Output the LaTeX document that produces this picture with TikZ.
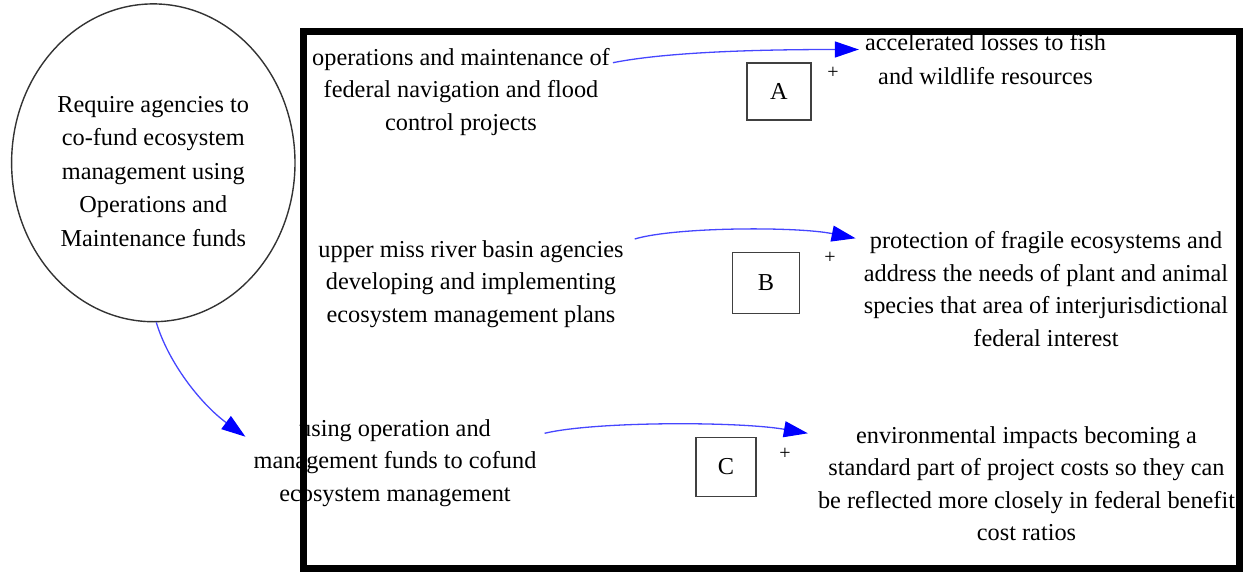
\documentclass[tikz,border=0pt]{standalone}
\usepackage{fontspec}
\setmainfont{Liberation Serif}
\usetikzlibrary{arrows.meta,shapes.geometric}
\definecolor{linkblue}{RGB}{70,70,255}
\definecolor{tipblue}{RGB}{0,0,255}

\begin{document}
\begin{tikzpicture}[x=1pt,y=-1pt,
  lbl/.style={align=center, inner sep=0pt, anchor=base,
              font=\fontsize{24.3}{32.5}\selectfont},
  tagbox/.style={draw=black!75, line width=1.8pt, inner sep=0pt,
                 font=\fontsize{24.3}{28}\selectfont},
  polarity/.style={inner sep=0pt, font=\fontsize{20}{20}\selectfont},
  link/.style={draw=linkblue, line width=1.3pt,
               -{Triangle[length=24pt,width=16pt,color=tipblue]}},
]
\useasboundingbox (0,0) rectangle (1243,573);

% policy lever
\node[ellipse, draw=black!80, line width=1.4pt, minimum width=283.4pt,
      minimum height=317.8pt, inner sep=0pt, align=center,
      font=\fontsize{24.3}{33.5}\selectfont] (policy) at (153.3,162.8)
  {\rule{0pt}{33.4pt}Require agencies to\\co-fund ecosystem\\management using\\Operations and\\Maintenance funds};

% causes (placed by the baseline of their last line)
\node[lbl] (om)     at (461,130)  {operations and maintenance of\\federal navigation and flood\\control projects};
\node[lbl] (umr)    at (471,322)  {upper miss river basin agencies\\developing and implementing\\ecosystem management plans};
\node[lbl] (cofund) at (395,501)  {using operation and\\management funds to cofund\\ecosystem management};

% effects
\node[lbl, font=\fontsize{24.3}{34}\selectfont] (loss) at (985.5,84.5) {accelerated losses to fish\\and wildlife resources};
\node[lbl] (protect) at (1046,346.2)  {protection of fragile ecosystems and\\address the needs of plant and animal\\species that area of interjurisdictional\\federal interest};
\node[lbl] (costs)   at (1026.5,540.5) {environmental impacts becoming a\\standard part of project costs so they can\\be reflected more closely in federal benefit\\cost ratios};

% link labels
\node[tagbox, minimum width=64pt, minimum height=57pt] (boxA) at (779,91.5) {A};
\node[tagbox, minimum width=67pt, minimum height=61pt] (boxB) at (766,283) {B};
\node[tagbox, minimum width=60pt, minimum height=59pt] (boxC) at (726,467) {C};

\node[polarity] (signA) at (833,73)  {+};
\node[polarity] (signB) at (830,258) {+};
\node[polarity] (signC) at (785,454) {+};

% causal links
\draw[link] ([xshift=3pt,yshift=67.3pt]om.base east)
  .. controls +(60,-12) and +(-80,0) .. ([xshift=-6pt,yshift=35pt]loss.base west);
\draw[link] ([xshift=11pt,yshift=83pt]umr.base east)
  .. controls +(40,-12) and +(-60,-12) .. ([xshift=-8pt,yshift=107.9pt]protect.base west);
\draw[link] ([xshift=8pt,yshift=67.7pt]cofund.base east)
  .. controls +(50,-12) and +(-70,-12) .. ([xshift=-10pt,yshift=107.2pt]costs.base west);
\draw[link] ([xshift=3pt]policy.south)
  .. controls +(12,40) and +(-45,-33) .. ([xshift=-8pt,yshift=64.3pt]cofund.base west);

% frame around the causal map
\draw[line width=7pt] (303.5,31.5) rectangle (1239.5,568.5);
\end{tikzpicture}
\end{document}
